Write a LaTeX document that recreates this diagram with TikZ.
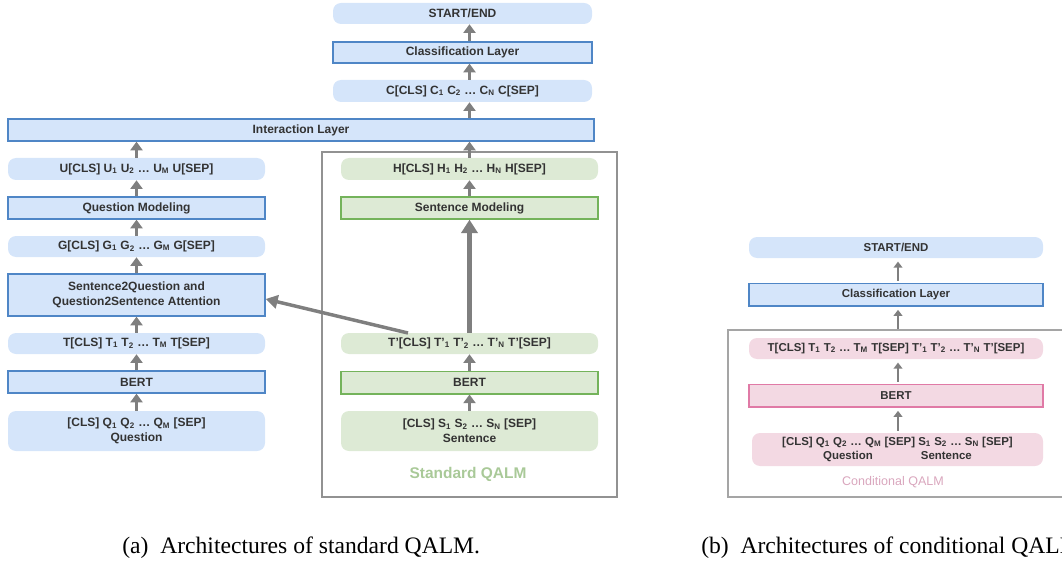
\documentclass[tikz,border=0pt]{standalone}
\usepackage{fontspec}
\setmainfont{Liberation Serif}
\setsansfont{Liberation Sans}
\usetikzlibrary{arrows.meta,calc}
\definecolor{bfill}{HTML}{D5E5FA}
\definecolor{bdraw}{HTML}{4F86C6}
\definecolor{gfill}{HTML}{DDEAD5}
\definecolor{gdraw}{HTML}{74B35B}
\definecolor{pfill}{HTML}{F3D9E3}
\definecolor{pdraw}{HTML}{E07AA6}
\definecolor{agray}{HTML}{7F7F7F}
\definecolor{txt}{HTML}{333333}
\definecolor{stdlab}{HTML}{A9C998}
\definecolor{condlab}{HTML}{D9A6BD}
\newcommand\sbs[1]{\textsubscript{#1}}
\tikzset{
  base/.style={inner sep=0pt, align=center, text=txt, font=\sffamily\bfseries\fontsize{9}{11}\selectfont},
  pill/.style={base, rounded corners=6pt},
  rectbox/.style={base, draw, line width=1pt},
  bpill/.style={pill, fill=bfill},
  brect/.style={rectbox, fill=bfill, draw=bdraw},
  gpill/.style={pill, fill=gfill},
  grect/.style={rectbox, fill=gfill, draw=gdraw},
  ppill/.style={pill, fill=pfill, font=\sffamily\bfseries\fontsize{8.6}{11}\selectfont},
  prect/.style={rectbox, fill=pfill, draw=pdraw, font=\sffamily\bfseries\fontsize{8.6}{11}\selectfont},
  lw/.style={minimum width=192.75pt},
  tw/.style={minimum width=194.25pt},
  rw/.style={minimum width=220.5pt},
  arr/.style={draw=agray, line width=2.4pt, -{Triangle[width=9pt,length=6.5pt]}},
  bigarr/.style={draw=agray, line width=3.6pt, -{Triangle[width=12pt,length=10pt]}},
  thinarr/.style={draw=agray, line width=1.3pt, -{Triangle[width=6.5pt,length=4.5pt]}, shorten >=2.5pt, shorten <=1.5pt},
}
\begin{document}
\begin{tikzpicture}[x=0.75pt,y=-0.75pt]
\useasboundingbox (0,0) rectangle (1062,570);
% ---------- left column ----------
\node[brect, minimum width=439.5pt, minimum height=16.5pt] (inter) at (301,130) {Interaction Layer};
\node[bpill, lw, minimum height=16.5pt] (u) at (136.5,169) {U[CLS] U\sbs{1} U\sbs{2} … U\sbs{M} U[SEP]};
\node[brect, lw, minimum height=16.5pt] (qm) at (136.5,208) {Question Modeling};
\node[bpill, lw, minimum height=15.75pt] (g) at (136.5,246.5) {G[CLS] G\sbs{1} G\sbs{2} … G\sbs{M} G[SEP]};
\node[brect, lw, minimum height=31.5pt] (att) at (136.5,295) {Sentence2Question and\\Question2Sentence Attention};
\node[bpill, lw, minimum height=15.75pt] (t) at (136.5,343.5) {T[CLS] T\sbs{1} T\sbs{2} … T\sbs{M} T[SEP]};
\node[brect, lw, minimum height=16.5pt] (bert) at (136.5,382) {BERT};
\node[bpill, lw, minimum height=30pt] (q) at (136.5,431) {[CLS] Q\sbs{1} Q\sbs{2} … Q\sbs{M} [SEP]\\Question};
% ---------- middle top ----------
\node[bpill, tw, minimum height=15.75pt] (se) at (462.5,13.5) {START/END};
\node[brect, tw, minimum height=15.75pt] (cl) at (462.5,52.5) {Classification Layer};
\node[bpill, tw, minimum height=16.5pt] (c) at (462.5,91) {C[CLS] C\sbs{1} C\sbs{2} … C\sbs{N} C[SEP]};
% ---------- standard QALM ----------
\draw[draw=agray!85, line width=1pt] (322,152) rectangle (617,497);
\node[gpill, lw, minimum height=16.5pt] (h) at (469.5,169) {H[CLS] H\sbs{1} H\sbs{2} … H\sbs{N} H[SEP]};
\node[grect, lw, minimum height=16.5pt] (sm) at (469.5,208) {Sentence Modeling};
\node[gpill, lw, minimum height=15.75pt] (tp) at (469.5,343.5) {T’[CLS] T’\sbs{1} T’\sbs{2} … T’\sbs{N} T’[SEP]};
\node[grect, lw, minimum height=17pt] (bert2) at (469.5,382.5) {BERT};
\node[gpill, lw, minimum height=30pt] (s) at (469.5,431) {[CLS] S\sbs{1} S\sbs{2} … S\sbs{N} [SEP]\\Sentence};
\node[font=\sffamily\bfseries\fontsize{11.6}{13}\selectfont, text=stdlab] (stdl) at (468,474) {Standard QALM};
% ---------- arrows left ----------
\draw[arr] (q.north) -- (bert.south);
\draw[arr] (bert.north) -- (t.south);
\draw[arr] (t.north) -- (att.south);
\draw[arr] (att.north) -- (g.south);
\draw[arr] (g.north) -- (qm.south);
\draw[arr] (qm.north) -- (u.south);
\draw[arr] (u.north) -- (u.north |- inter.south);
% ---------- arrows middle ----------
\draw[arr] (s.north) -- (bert2.south);
\draw[arr] (bert2.north) -- (tp.south);
\draw[bigarr] (tp.north) -- (sm.south);
\draw[arr] (sm.north) -- (h.south);
\draw[arr] (h.north) -- (h.north |- inter.south);
\draw[arr] (h.north |- inter.north) -- (h.north |- c.south);
\draw[arr] (h.north |- c.north) -- (h.north |- cl.south);
\draw[arr] (h.north |- cl.north) -- (h.north |- se.south);
\coordinate (dstart) at (408,333);
\coordinate (dend) at ($(att.east)+(0,4)$);
\draw[draw=agray, line width=2.6pt, -{Triangle[width=10pt,length=9pt]}] (dstart) -- (dend);
% ---------- right panel ----------
\node[bpill, rw, minimum height=15.75pt, font=\sffamily\bfseries\fontsize{8.6}{11}\selectfont] (se2) at (896,247.5) {START/END};
\node[brect, rw, minimum height=17pt, font=\sffamily\bfseries\fontsize{8.6}{11}\selectfont] (cl2) at (896,294.5) {Classification Layer};
\draw[draw=agray!70, line width=0.8pt] (1075,330) -- (728,330) -- (728,497) -- (1075,497);
\node[ppill, rw, minimum height=15.75pt] (tt) at (896,348.5) {T[CLS] T\sbs{1} T\sbs{2} … T\sbs{M} T[SEP] T’\sbs{1} T’\sbs{2} … T’\sbs{N} T’[SEP]};
\node[prect, rw, minimum height=17pt] (bert3) at (896,395.5) {BERT};
\node[ppill, minimum width=218.25pt, minimum height=24.75pt] (qs) at (897.5,449.5) {[CLS] Q\sbs{1} Q\sbs{2} … Q\sbs{M} [SEP] S\sbs{1} S\sbs{2} … S\sbs{N} [SEP]\\Question\hspace{36pt}Sentence};
\node[font=\sffamily\fontsize{9.4}{11}\selectfont, text=condlab] (condl) at (893,482) {Conditional QALM};
\coordinate (rtop) at (898,331);
\draw[thinarr] (qs.north -| rtop) -- (bert3.south -| rtop);
\draw[thinarr] (bert3.north -| rtop) -- (tt.south -| rtop);
\draw[thinarr] (rtop) -- (cl2.south -| rtop);
\draw[thinarr] (cl2.north -| rtop) -- (se2.south -| rtop);
% ---------- captions ----------
\node[anchor=base west, font=\fontsize{17.7}{20}\selectfont, inner sep=0pt] (capa) at (122,553) {(a)\enspace Architectures of standard QALM.};
\node[anchor=base west, font=\fontsize{17.7}{20}\selectfont, inner sep=0pt] (capb) at (701,553) {(b)\enspace Architectures of conditional QALM.};
\end{tikzpicture}
\end{document}
